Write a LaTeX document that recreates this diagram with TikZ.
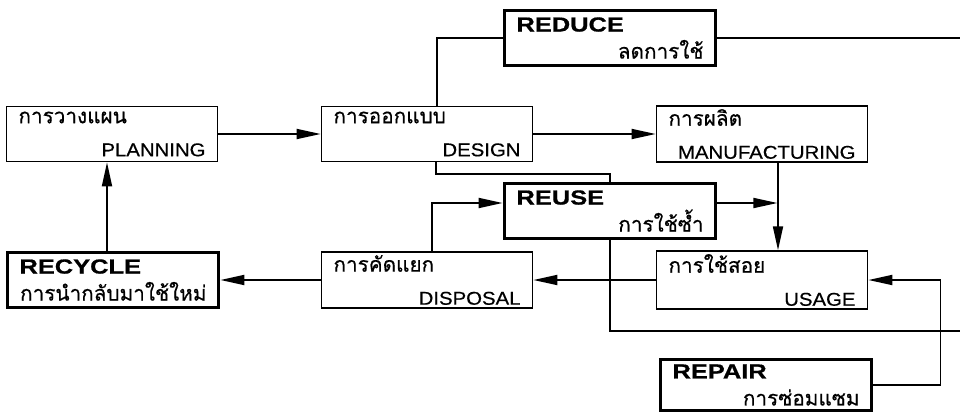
\documentclass[tikz,border=0pt]{standalone}
\usepackage{fontspec}
\setmainfont{Liberation Sans}[FakeStretch=1.1, FakeBold=0.5]
\newfontfamily\thaifont[Script=Thai, Scale=1.12, FakeBold=0.5]{Loma}
\newfontfamily\blackfont[FakeStretch=1.25, Scale=1.1, FakeBold=0.8]{Liberation Sans Bold}
\usetikzlibrary{arrows.meta, calc}

\begin{document}
\begin{tikzpicture}[
    x=1pt, y=1pt,
    >={Triangle[length=24pt, width=10pt]},
    stage/.style={draw, line width=1.7pt, rectangle,
        minimum width=211pt, minimum height=55pt,
        inner xsep=12pt, inner ysep=3pt, text width=187pt, align=left,
        font=\fontsize{18.5}{33}\selectfont},
    rstage/.style={stage, line width=3.8pt, font=\fontsize{18.5}{27}\selectfont},
    link/.style={line width=1.8pt},
    flow/.style={link, ->},
]
\useasboundingbox (0,0) rectangle (960,416);

% =============================================================================
% Main chain
% =============================================================================
\node[stage] (planning) at (112,282) {{\thaifont การวางแผน}\\\hspace*{\fill}PLANNING};
\node[stage] (design) at (427,282) {{\thaifont การออกแบบ}\\\hspace*{\fill}DESIGN};
\node[stage] (manufacturing) at (762,282) {{\thaifont การผลิต}\\\hspace*{\fill}MANUFACTURING};
\node[stage] (usage) at (762,136) {{\thaifont การใช้สอย}\\\hspace*{\fill}USAGE};
\node[stage] (disposal) at (427,136) {{\thaifont การคัดแยก}\\\hspace*{\fill}DISPOSAL};

% =============================================================================
% The four R
% =============================================================================
\node[rstage] (reduce) at (610,378) {{\blackfont REDUCE}\\\hspace*{\fill}{\thaifont ลดการใช้}};
\node[rstage] (reuse) at (610,205) {{\blackfont REUSE}\\\hspace*{\fill}{\thaifont การใช้ซ้ำ}};
\node[rstage] (recycle) at (113,136) {{\blackfont RECYCLE}\\\hspace*{\fill}{\thaifont การนำกลับมาใช้ใหม่}};
\node[rstage, minimum height=51pt] (repair) at (766,31) {{\blackfont REPAIR}\\\hspace*{\fill}{\thaifont การซ่อมแซม}};

% --- Loose ends at the right edge ---
\coordinate (topEnd) at (960,378);
\coordinate (bottomEnd) at (960,85);

% --- Connectors ---
\draw[flow] (planning) -- (design);
\draw[flow] (design) -- (manufacturing);
\draw[link] ([xshift=10pt]design.north) |- (reduce.west);
\draw[link] (reduce) -- (topEnd);
\draw[link] ([xshift=9pt]design.south) -- ++(0,-12) -| (reuse.north);
\draw[flow] ([xshift=16pt]manufacturing.south) -- ([xshift=16pt]usage.north);
\draw[flow] ([yshift=8pt]reuse.east) -- ++(60,0);
\draw[flow] ([xshift=5pt]disposal.north) |- ([yshift=8pt]reuse.west);
\draw[link] (reuse.south) |- (bottomEnd);
\draw[flow] (usage) -- (disposal);
\draw[flow] (disposal) -- (recycle);
\draw[flow] ([xshift=-6pt]recycle.north) -- ([xshift=-5pt]planning.south);
\draw[flow] (repair.east) -- ++(67,0) |- (usage.east);

\end{tikzpicture}
\end{document}
